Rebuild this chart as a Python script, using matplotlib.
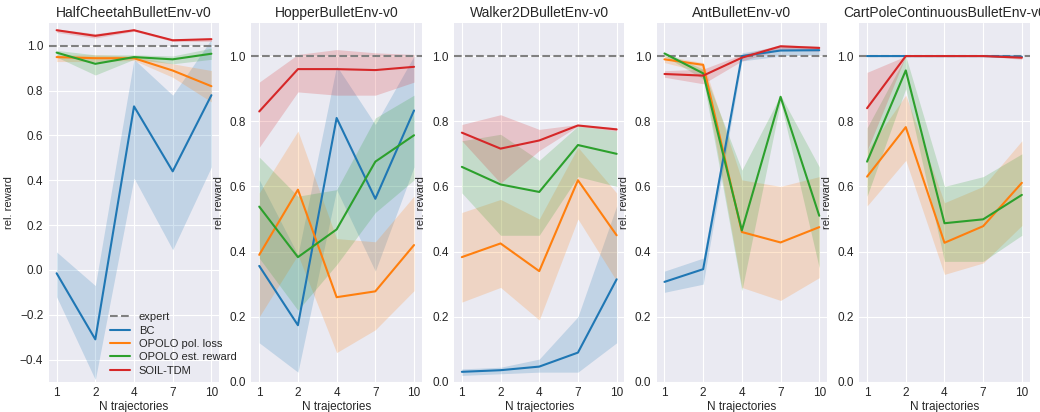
import matplotlib
matplotlib.use("Agg")
import matplotlib.pyplot as plt
import numpy as np

plt.style.use("seaborn-v0_8-darkgrid")
plt.rcParams['font.family'] = ['Liberation Sans', 'DejaVu Sans']

n_traj = ["1", "2", "4", "7", "10"]
envs = ["HalfCheetahBulletEnv-v0", "HopperBulletEnv-v0", "Walker2DBulletEnv-v0",
        "AntBulletEnv-v0", "CartPoleContinuousBulletEnv-v0"]
methods = ["BC", "OPOLO pol. loss", "OPOLO est. reward", "SOIL-TDM"]
colors = ["#1f77b4", "#ff7f0e", "#2ca02c", "#d62728"]

# mean, lower, upper per env per method
halfcheetah_mean = {
    "BC": [-0.015, -0.31, 0.73, 0.44, 0.78],
    "OPOLO pol. loss": [0.95, 0.945, 0.945, 0.89, 0.82],
    "OPOLO est. reward": [0.97, 0.92, 0.95, 0.94, 0.965],
    "SOIL-TDM": [1.07, 1.045, 1.07, 1.025, 1.03],
}
halfcheetah_lo = {
    "BC": [-0.12, -0.49, 0.41, 0.09, 0.46],
    "OPOLO pol. loss": [0.93, 0.93, 0.935, 0.86, 0.75],
    "OPOLO est. reward": [0.95, 0.87, 0.94, 0.92, 0.94],
    "SOIL-TDM": [1.06, 1.035, 1.065, 1.02, 1.02],
}
halfcheetah_hi = {
    "BC": [0.08, -0.07, 0.94, 0.78, 1.03],
    "OPOLO pol. loss": [0.96, 0.96, 0.955, 0.92, 0.89],
    "OPOLO est. reward": [0.98, 0.96, 0.96, 0.955, 0.99],
    "SOIL-TDM": [1.075, 1.055, 1.075, 1.03, 1.035],
}

hopper_mean = {
    "BC": [0.356, 0.174, 0.81, 0.562, 0.833],
    "OPOLO pol. loss": [0.39, 0.59, 0.26, 0.278, 0.42],
    "OPOLO est. reward": [0.538, 0.383, 0.468, 0.676, 0.757],
    "SOIL-TDM": [0.83, 0.96, 0.96, 0.957, 0.967],
}
hopper_lo = {
    "BC": [0.12, 0.03, 0.59, 0.34, 0.66],
    "OPOLO pol. loss": [0.20, 0.39, 0.09, 0.16, 0.28],
    "OPOLO est. reward": [0.38, 0.22, 0.36, 0.52, 0.62],
    "SOIL-TDM": [0.72, 0.89, 0.88, 0.88, 0.92],
}
hopper_hi = {
    "BC": [0.62, 0.39, 0.97, 0.79, 1.0],
    "OPOLO pol. loss": [0.58, 0.77, 0.44, 0.43, 0.57],
    "OPOLO est. reward": [0.69, 0.57, 0.59, 0.81, 0.88],
    "SOIL-TDM": [0.92, 1.005, 1.02, 1.01, 1.005],
}

walker_mean = {
    "BC": [0.031, 0.036, 0.047, 0.09, 0.315],
    "OPOLO pol. loss": [0.383, 0.425, 0.34, 0.619, 0.45],
    "OPOLO est. reward": [0.66, 0.606, 0.583, 0.727, 0.70],
    "SOIL-TDM": [0.765, 0.716, 0.741, 0.787, 0.775],
}
walker_lo = {
    "BC": [0.02, 0.025, 0.03, 0.03, 0.12],
    "OPOLO pol. loss": [0.245, 0.29, 0.19, 0.50, 0.31],
    "OPOLO est. reward": [0.58, 0.45, 0.45, 0.63, 0.60],
    "SOIL-TDM": [0.74, 0.61, 0.71, 0.785, 0.77],
}
walker_hi = {
    "BC": [0.04, 0.045, 0.07, 0.20, 0.54],
    "OPOLO pol. loss": [0.52, 0.56, 0.50, 0.72, 0.58],
    "OPOLO est. reward": [0.74, 0.76, 0.68, 0.785, 0.77],
    "SOIL-TDM": [0.79, 0.82, 0.775, 0.79, 0.78],
}

ant_mean = {
    "BC": [0.307, 0.346, 1.0, 1.017, 1.018],
    "OPOLO pol. loss": [0.99, 0.973, 0.46, 0.428, 0.475],
    "OPOLO est. reward": [1.008, 0.947, 0.465, 0.875, 0.51],
    "SOIL-TDM": [0.945, 0.94, 0.995, 1.03, 1.025],
}
ant_lo = {
    "BC": [0.275, 0.30, 0.985, 1.0, 1.005],
    "OPOLO pol. loss": [0.98, 0.95, 0.29, 0.25, 0.32],
    "OPOLO est. reward": [1.0, 0.93, 0.28, 0.86, 0.35],
    "SOIL-TDM": [0.935, 0.915, 0.985, 1.02, 1.015],
}
ant_hi = {
    "BC": [0.34, 0.38, 1.01, 1.03, 1.03],
    "OPOLO pol. loss": [1.0, 0.98, 0.62, 0.60, 0.63],
    "OPOLO est. reward": [1.012, 0.96, 0.65, 0.88, 0.66],
    "SOIL-TDM": [0.955, 0.96, 1.005, 1.035, 1.03],
}

cartpole_mean = {
    "BC": [1.0, 1.0, 1.0, 1.0, 0.998],
    "OPOLO pol. loss": [0.63, 0.782, 0.427, 0.478, 0.611],
    "OPOLO est. reward": [0.676, 0.956, 0.487, 0.499, 0.574],
    "SOIL-TDM": [0.84, 1.0, 1.0, 1.0, 0.995],
}
cartpole_lo = {
    "BC": [1.0, 1.0, 1.0, 1.0, 0.996],
    "OPOLO pol. loss": [0.54, 0.68, 0.33, 0.365, 0.48],
    "OPOLO est. reward": [0.57, 0.90, 0.37, 0.37, 0.45],
    "SOIL-TDM": [0.71, 1.0, 1.0, 1.0, 0.99],
}
cartpole_hi = {
    "BC": [1.0, 1.0, 1.0, 1.0, 1.0],
    "OPOLO pol. loss": [0.71, 0.88, 0.55, 0.60, 0.74],
    "OPOLO est. reward": [0.78, 1.0, 0.60, 0.63, 0.70],
    "SOIL-TDM": [0.95, 1.0, 1.0, 1.0, 1.0],
}

all_mean = [halfcheetah_mean, hopper_mean, walker_mean, ant_mean, cartpole_mean]
all_lo = [halfcheetah_lo, hopper_lo, walker_lo, ant_lo, cartpole_lo]
all_hi = [halfcheetah_hi, hopper_hi, walker_hi, ant_hi, cartpole_hi]
ylims = [(-0.5, 1.1), (0, 1.1), (0, 1.1), (0, 1.1), (0, 1.1)]

fig, axes = plt.subplots(1, 5, figsize=(10.4, 4.12), dpi=100)
fig.subplots_adjust(left=0.047, right=0.99, bottom=0.073, top=0.943, wspace=0.19)

x = np.arange(len(n_traj))
for i, ax in enumerate(axes):
    ax.axhline(1.0, color="gray", ls="--", lw=1.5, label="expert")
    for m, c in zip(methods, colors):
        ax.plot(x, all_mean[i][m], color=c, lw=1.5, label=m)
        ax.fill_between(x, all_lo[i][m], all_hi[i][m], color=c, alpha=0.2, lw=0)
    ax.set_xticks(x)
    ax.set_xticklabels(n_traj)
    ax.set_ylim(*ylims[i])
    ax.set_xlim(-0.2, 4.2)
    ax.set_title(envs[i], fontsize=10, pad=5)
    ax.set_xlabel("N trajectories", fontsize=8.5, labelpad=1)
    ax.set_ylabel("rel. reward", fontsize=8)
    ax.tick_params(labelsize=8.5, pad=4)

axes[0].legend(loc="lower left", bbox_to_anchor=(0.3, -0.01), fontsize=8,
               frameon=False, labelspacing=0.3, handlelength=1.8)
fig.savefig("out.png", dpi=100)
